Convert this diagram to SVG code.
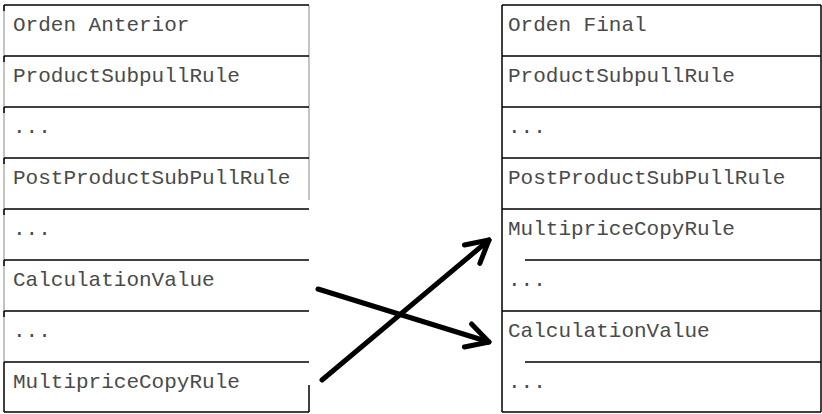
<svg xmlns="http://www.w3.org/2000/svg" width="822" height="414" viewBox="0 0 822 414">
<style>
.t{font-family:"Liberation Mono","Courier New",monospace;font-size:21px;fill:#4a4a4a}
.b{stroke:#000;stroke-width:1.5;fill:none}
.g{stroke:#b0b0b0;stroke-width:1.5;fill:none}
.c{stroke:#000;stroke-width:5;fill:none;stroke-linecap:round}
</style>
<defs>
<marker id="ah" markerUnits="userSpaceOnUse" markerWidth="40" markerHeight="40" viewBox="-30 -20 40 40" refX="0" refY="0" orient="auto">
<path d="M-22,-12 L0,0 L-22,12" stroke="#000" stroke-width="5" fill="none" stroke-linecap="round" stroke-linejoin="round"/>
</marker>
</defs>
<rect width="822" height="414" fill="#fff"/>
<g id="left">
<line class="g" x1="4" y1="5" x2="4" y2="362"/>
<line class="g" x1="309" y1="5" x2="309" y2="200"/>
<g id="l0"><line class="b" x1="4" y1="5" x2="309" y2="5"/><line class="b" x1="4" y1="5" x2="4" y2="11"/><text class="t" x="13" y="31">Orden Anterior</text></g>
<g id="l1"><line class="b" x1="4" y1="56" x2="309" y2="56"/><line class="b" x1="4" y1="56" x2="4" y2="62"/><text class="t" x="13" y="82">ProductSubpullRule</text></g>
<g id="l2"><line class="b" x1="4" y1="107" x2="309" y2="107"/><line class="b" x1="4" y1="107" x2="4" y2="113"/><text class="t" x="13" y="133">...</text></g>
<g id="l3"><line class="b" x1="4" y1="158" x2="309" y2="158"/><line class="b" x1="4" y1="158" x2="4" y2="164"/><text class="t" x="13" y="184">PostProductSubPullRule</text></g>
<g id="l4"><line class="b" x1="4" y1="209" x2="309" y2="209"/><line class="b" x1="4" y1="209" x2="4" y2="215"/><text class="t" x="13" y="235">...</text></g>
<g id="l5"><line class="b" x1="4" y1="260" x2="309" y2="260"/><line class="b" x1="4" y1="260" x2="4" y2="266"/><text class="t" x="13" y="286">CalculationValue</text></g>
<g id="l6"><line class="b" x1="4" y1="311" x2="309" y2="311"/><line class="b" x1="4" y1="311" x2="4" y2="317"/><text class="t" x="13" y="337">...</text></g>
<g id="l7"><line class="b" x1="4" y1="362" x2="309" y2="362"/><line class="b" x1="4" y1="362" x2="4" y2="412"/><line class="b" x1="309" y1="385" x2="309" y2="412"/><line class="b" x1="4" y1="412" x2="309" y2="412"/><text class="t" x="13" y="388">MultipriceCopyRule</text></g>
</g>
<g id="right">
<line class="b" x1="502" y1="5" x2="502" y2="412"/>
<line class="b" x1="821" y1="5" x2="821" y2="412"/>
<g id="r0"><line class="b" x1="502" y1="5" x2="821" y2="5"/><text class="t" x="508" y="31">Orden Final</text></g>
<g id="r1"><line class="b" x1="502" y1="56" x2="821" y2="56"/><text class="t" x="508" y="82">ProductSubpullRule</text></g>
<g id="r2"><line class="b" x1="502" y1="107" x2="821" y2="107"/><text class="t" x="508" y="133">...</text></g>
<g id="r3"><line class="b" x1="502" y1="158" x2="821" y2="158"/><text class="t" x="508" y="184">PostProductSubPullRule</text></g>
<g id="r4"><line class="b" x1="502" y1="209" x2="821" y2="209"/><text class="t" x="508" y="235">MultipriceCopyRule</text></g>
<g id="r5"><line class="b" x1="525" y1="260" x2="821" y2="260"/><text class="t" x="508" y="286">...</text></g>
<g id="r6"><line class="b" x1="502" y1="311" x2="821" y2="311"/><text class="t" x="508" y="337">CalculationValue</text></g>
<g id="r7"><line class="b" x1="525" y1="362" x2="821" y2="362"/><line class="b" x1="502" y1="412" x2="821" y2="412"/><text class="t" x="508" y="388">...</text></g>
</g>
<g id="connectors">
<line class="c" x1="318" y1="289" x2="489" y2="342" marker-end="url(#ah)"/>
<line class="c" x1="322" y1="380" x2="489" y2="240" marker-end="url(#ah)"/>
</g>
</svg>
